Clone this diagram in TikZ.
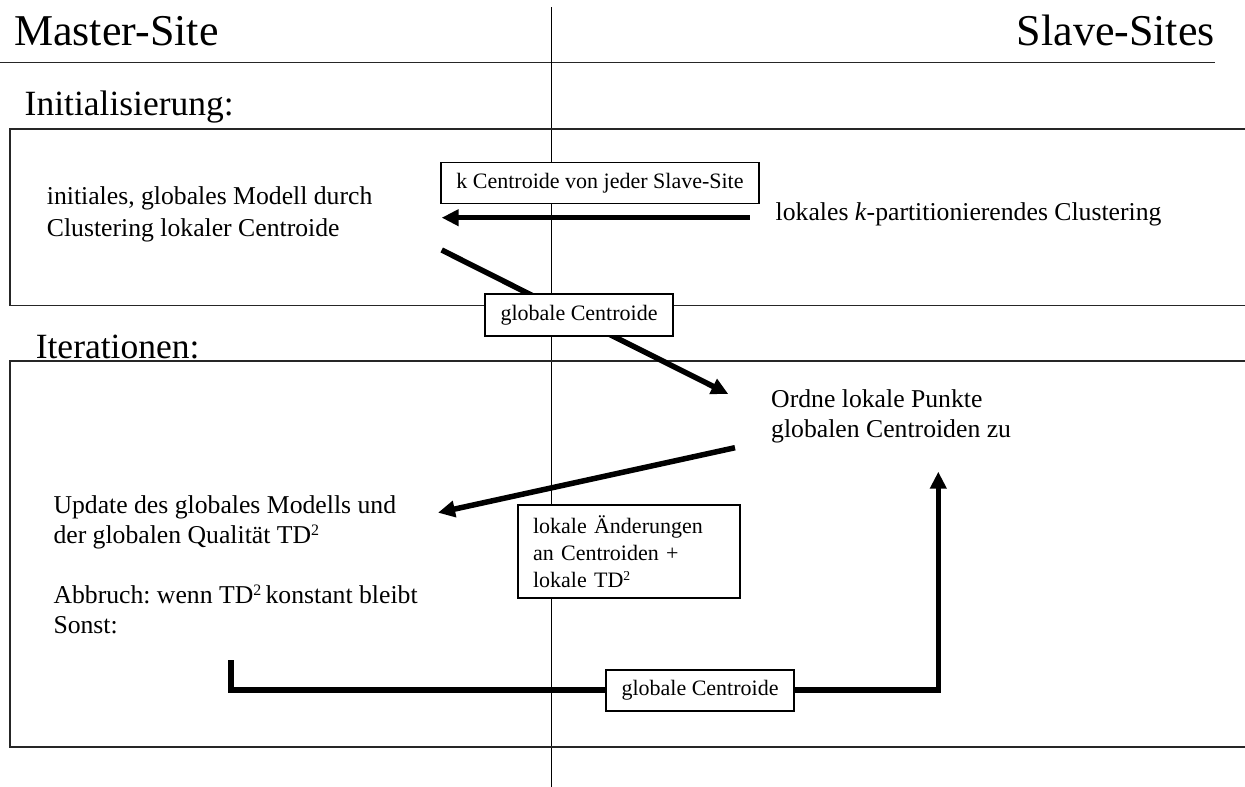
\documentclass[tikz,border=0pt]{standalone}
\usepackage{fontspec}
\usepackage{graphicx}
\setmainfont{Liberation Serif}
\usetikzlibrary{arrows.meta}
\frenchspacing
\newcommand\sqtwo{\raisebox{0.3em}{\scalebox{0.62}{2}}}
\begin{document}
\begin{tikzpicture}[x=1pt,y=-1pt,
  title/.style={font=\fontsize{44}{50}\selectfont, inner sep=0pt},
  section/.style={font=\fontsize{35.5}{42}\selectfont, inner sep=0pt},
  body/.style={font=\fontsize{25.7}{30}\selectfont, inner sep=0pt, align=left},
  lbl/.style={draw, line width=1.2pt, fill=white, font=\fontsize{22}{27}\selectfont, inner sep=0pt},
  frame/.style={draw=black!85, line width=1.3pt},
  flow/.style={line width=5.5pt, line join=miter, -{Triangle[length=17pt,width=16pt]}},
  ]
\useasboundingbox (0,0) rectangle (1245,787);

% headings
\node[title, anchor=base west] (master) at (14,45.7) {Master-Site};
\node[title, anchor=base east] (slave) at (1215,45.7) {Slave-Sites};
\coordinate (ruleL) at (0,62.3);
\coordinate (ruleR) at (1215,62.3);
\draw[frame] (ruleL) -- (ruleR);
\coordinate (divT) at (551.5,7);
\coordinate (divB) at (551.5,787);
\draw[line width=1.2pt] (divT) -- (divB);

% section frames
\node[section, anchor=base west] (init) at (24.5,115) {Initialisierung:};
\draw[frame] (1246,129) -- (10,129) -- (10,305.7) -- (1246,305.7);
\node[section, anchor=base west] (iter) at (35.6,358) {Iterationen:};
\draw[frame] (1246,361) -- (10,361) -- (10,747) -- (1246,747);

% texts (base anchor = baseline of the last line)
\node[body, anchor=base west, font=\fontsize{25.7}{32}\selectfont] (initmodel) at (46.7,236)
  {initiales, globales Modell durch\\Clustering lokaler Centroide};
\node[body, anchor=base west] (localclust) at (775.5,220)
  {lokales \textit{k}-partitionierendes Clustering};
\node[body, anchor=base west] (assign) at (771,437)
  {Ordne lokale Punkte\\globalen Centroiden zu};
\node[body, anchor=base west] (update) at (53.3,633)
  {Update des globales Modells und\\der globalen Qualität TD\sqtwo\\[30pt]Abbruch: wenn TD\sqtwo\,konstant bleibt\\Sonst:};

% connector end points
\coordinate (kS) at (749.5,217.7);
\coordinate (kE) at (441.7,217.7);
\coordinate (gS) at (441.7,250);
\coordinate (gE) at (728.3,394);
\coordinate (rS) at (735,447.7);
\coordinate (rE) at (438,512.7);
\coordinate (bS) at (231,660);
\coordinate (bC1) at (231,690);
\coordinate (bC2) at (938.3,690);
\coordinate (bE) at (938.3,471.7);

\draw[flow] (kS) -- (kE);
\draw[flow] (gS) -- (gE);
\draw[flow] (rS) -- (rE);
\draw[flow] (bS) -- (bC1) -- (bC2) -- (bE);

% labels on connectors
\node[lbl, minimum width=318pt, minimum height=41pt] (klbl) at (600,183)
  {k Centroide von jeder Slave-Site};
\node[lbl, minimum width=188pt, minimum height=42pt] (glbl1) at (579,315)
  {globale Centroide};
\node[lbl, minimum width=222pt, minimum height=93pt, inner xsep=15pt, text width=192pt, align=left] (dlbl) at (629,551.5)
  {lokale Änderungen\\an Centroiden +\\lokale TD\sqtwo};
\node[lbl, minimum width=188pt, minimum height=41pt] (glbl2) at (700,690.5)
  {globale Centroide};
\end{tikzpicture}
\end{document}
